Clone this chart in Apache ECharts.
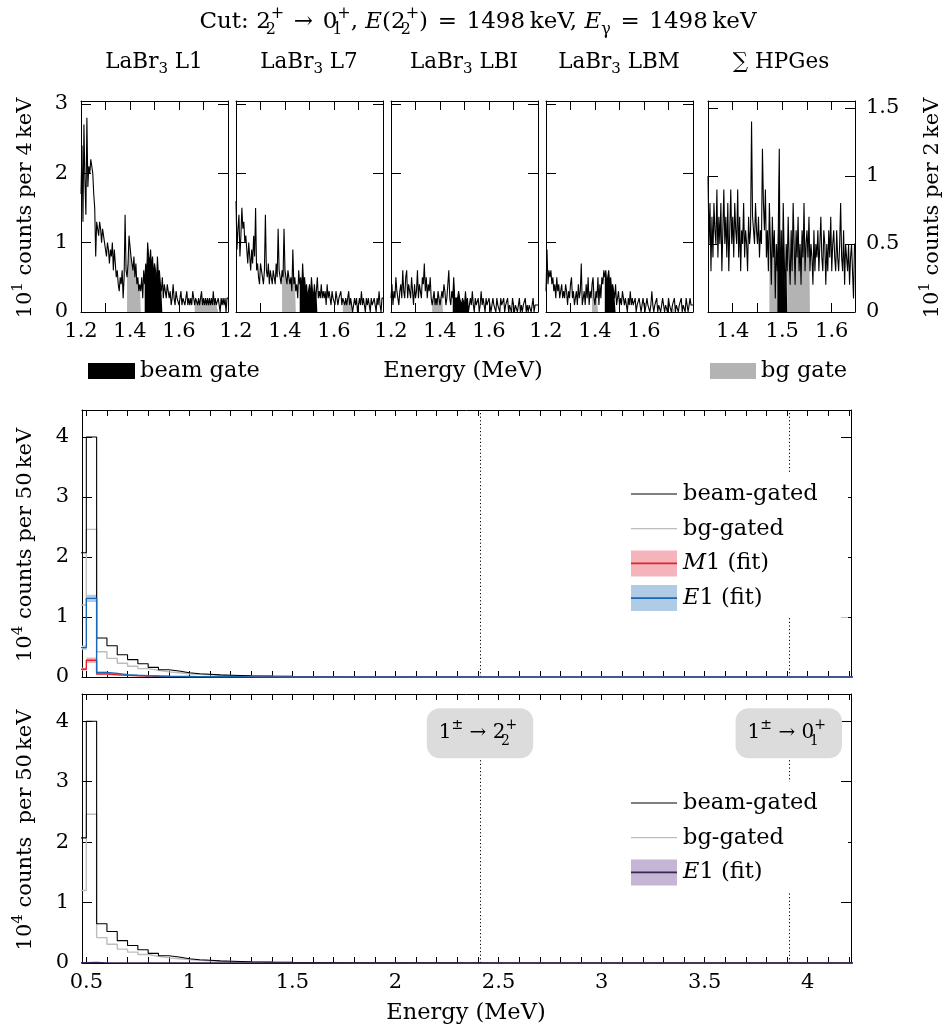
<!DOCTYPE html>
<html><head><meta charset="utf-8">
<script src="https://cdn.jsdelivr.net/npm/echarts@6/dist/echarts.min.js"></script>
<style>html,body{margin:0;padding:0;background:#fff}#c{width:952px;height:1035px}</style>
</head><body><div id="c"></div>
<script>
const FONT = 'DejaVu Serif';

// ---------- Top row: LaBr3 spectra (counts per 4 keV, from 1.200 MeV) ----------
const labrBinStart = 1.2, labrBinWidth = 0.004;
const labrNames = ['LaBr{sb|3} L1', 'LaBr{sb|3} L7', 'LaBr{sb|3} LBI', 'LaBr{sb|3} LBM'];
const countsL1 = [
 17,24,13,27,19,14,28,18,21,20, 22,21,20,17,15,8,13,12,11,13,
 12,10,12,11,10,9,8,10,9,7, 9,8,10,6,9,7,5,6,4,3,
 5,4,6,2,5,14,6,5,7,11, 11,8,7,6,8,5,7,4,5,3,
 4,3,5,2,6,4,7,5,10,8, 7,9,6,8,5,7,6,4,8,5,
 6,4,3,5,2,4,3,2,4,3, 2,3,1,2,4,2,1,3,2,2,
 1,2,3,1,2,2,1,2,3,1, 2,1,2,1,3,2,1,2,2,1,
 2,1,2,3,1,2,1,2,1,2, 1,2,1,2,1,3,1,2,1,1,
 2,1,0,2,1,2,1,2,0,2];
const countsL7 = [
 16,9,12,14,8,11,15,12,13,10, 11,9,7,10,8,6,9,7,11,8,
 15,6,7,5,4,7,6,5,4,6, 14,6,5,7,4,6,5,4,6,5,
 4,7,5,12,6,5,4,6,5,12, 6,5,4,6,5,4,5,3,9,4,
 5,3,4,2,6,4,5,3,7,4, 5,3,4,2,3,4,2,5,3,2,
 4,2,3,5,2,3,2,4,2,3, 2,3,1,4,2,3,2,1,3,2,
 2,1,3,2,1,2,2,3,1,2, 2,1,2,1,2,3,1,2,1,0,
 1,2,1,2,0,1,2,1,3,1, 2,1,0,2,1,2,1,0,2,1,
 1,2,1,0,2,1,3,1,0,2];
const countsLBI = [
 2,4,1,3,2,5,3,2,1,3, 4,2,6,3,2,5,6,2,4,3,
 2,5,3,1,4,2,3,6,2,4, 3,2,5,4,7,3,5,2,4,3,
 5,2,1,2,3,1,2,1,3,2, 1,2,3,2,4,3,1,2,4,6,
 2,1,3,2,5,2,2,2,2,3, 2,2,1,2,2,1,3,1,2,0,
 1,2,1,3,1,0,2,1,1,2, 0,1,3,1,2,1,0,2,1,1,
 2,1,0,1,2,1,1,0,2,1, 1,0,2,1,1,2,0,1,1,2,
 0,1,1,0,2,1,0,1,1,0, 1,2,0,1,0,1,1,2,0,1,
 0,1,1,0,1,2,0,1,1,1];
const countsLBM = [
 3,9,4,6,5,6,4,5,3,4, 2,5,3,4,2,3,4,2,3,2,
 4,3,1,3,2,4,5,2,3,1, 2,3,1,4,2,3,7,1,2,3,
 1,4,2,5,1,3,2,4,5,2, 1,3,2,5,1,4,2,5,4,6,
 5,6,4,5,6,4,5,3,4,3, 2,4,1,2,3,1,2,1,3,2,
 1,2,1,0,2,1,3,1,2,1, 1,2,0,1,1,2,1,0,1,2,
 1,0,1,2,1,1,0,1,3,1, 0,1,1,2,0,1,1,0,1,2,
 1,0,1,1,0,2,1,1,0,1, 1,2,0,1,1,0,1,1,2,0,
 1,1,0,2,1,0,1,2,1,1];
const labrCounts = [countsL1, countsL7, countsLBI, countsLBM];
const labrBeamGates = [[1.46, 1.532], [1.46, 1.532], [1.452, 1.516], [1.44, 1.484]];
const labrBgGates = [
  [[1.388, 1.444], [1.664, 1.76]],
  [[1.388, 1.444], [1.636, 1.68]],
  [[1.368, 1.412], [1.68, 1.692]],
  [[1.388, 1.412], [1.712, 1.724]]];

// ---------- Top row: sum of HPGe (counts per 2 keV, from 1.350 MeV) ----------
const hpgeBinStart = 1.35, hpgeBinWidth = 0.002;
const countsHPGe = [
 10,5,8,3,7,4,8,6,5,9, 4,7,5,8,3,6,9,5,7,4,
 8,3,6,9,5,7,4,8,6,5, 9,4,7,3,6,5,8,4,6,5,
 3,7,5,6,14,7,6,5,8,6, 5,7,4,6,5,12,8,6,9,4,
 6,3,8,5,2,7,4,6,1,5, 3,6,12,0,6,2,8,4,1,5,
 3,7,4,2,6,3,8,5,2,6, 4,7,3,5,2,6,4,8,3,5,
 6,4,7,3,5,4,2,6,3,5, 4,6,3,5,7,4,3,6,5,2,
 5,3,6,4,7,3,5,6,4,3, 6,4,3,5,8,4,3,6,2,5,
 4,3,5,2,4,5,3,1,5];
const hpgeBeamGate = [1.49, 1.51];
const hpgeBgGates = [[1.474, 1.49], [1.51, 1.556]];

// ---------- Main panels (10^4 counts per 50 keV, bins from 0.45 MeV) ----------
const mainBinStart = 0.45, mainBinWidth = 0.05;
const beamGated = [
 2.07,4.00,0.65,0.52,0.37,0.29,0.22,0.16,0.12,0.10,
 0.07,0.055,0.045,0.035,0.03,0.025,0.02,0.017,0.014,0.012,
 0.01,0.009,0.008,0.007,0.006,0.005,0.005,0.004,0.004,0.003,
 0.003,0.003,0.002,0.002,0.002,0.002,0.002,0.001,0.002,0.001,
 0.001,0.001,0.001,0.001,0.001,0.001,0.001,0.001,0.001,0.001,
 0.001,0.001,0.001,0.001,0.001,0.001,0.001,0.001,0.001,0.001,
 0.001,0.001,0.001,0.001,0.001,0.001,0.001,0,0.001,0,
 0,0,0,0,0,0];
const bgGated = [
 1.20,2.46,0.42,0.31,0.23,0.18,0.14,0.11,0.085,0.07,
 0.055,0.045,0.037,0.03,0.025,0.02,0.017,0.014,0.012,0.01,
 0.008,0.007,0.006,0.005,0.004,0.004,0.003,0.003,0.002,0.002,
 0.002,0.002,0.001,0.001,0.001,0.001,0.001,0.001,0.001,0.001,
 0.001,0.001,0.001,0.001,0,0.001,0,0,0,0,
 0,0,0,0,0,0,0,0,0,0,
 0,0,0,0,0,0,0,0,0,0,
 0,0,0,0,0,0];
const m1Fit = [
 0.13,0.28,0.05,0.038,0.027,0.02,0.015,0.012,0.009,0.007,
 0.005,0.004,0.003,0.003,0.002,0.002,0.002,0.001,0.001,0.001,
 0.001,0.001,0.001,0.001,0.001,0.001,0.001,0.001,0.001,0.001,
 0.001,0.001,0.001,0.001,0.001,0.001,0.001,0.001,0.001,0.001,
 0.001,0.001,0.001,0.001,0.001,0.001,0.001,0.001,0.001,0.001,
 0.001,0.001,0.001,0.001,0.001,0.001,0.001,0.001,0.001,0.001,
 0.001,0.001,0.001,0.001,0.001,0.001,0.001,0.001,0.001,0.001,
 0.001,0.001,0.001,0.001,0.001,0.001];
const m1Err = [
 0.025,0.045,0.01,0.008,0.006,0.004,0.003,0.002,0.002,0.002,
 0.001,0.001,0.001,0.001,0.001,0.001,0.001,0.001,0.001,0.001,
 0,0,0,0,0,0,0,0,0,0, 0,0,0,0,0,0,0,0,0,0,
 0,0,0,0,0,0,0,0,0,0, 0,0,0,0,0,0,0,0,0,0,
 0,0,0,0,0,0,0,0,0,0, 0,0,0,0,0,0];
const e1Fit = [
 0.49,1.31,0.075,0.06,0.04,0.03,0.022,0.017,0.013,0.01,
 0.008,0.006,0.005,0.004,0.003,0.003,0.002,0.002,0.002,0.001,
 0.001,0.001,0.001,0.001,0.001,0.001,0.001,0.001,0.001,0.001,
 0.001,0.001,0.001,0.001,0.001,0.001,0.001,0.001,0.001,0.001,
 0.001,0.001,0.001,0.001,0.001,0.001,0.001,0.001,0.001,0.001,
 0.001,0.001,0.001,0.001,0.001,0.001,0.001,0.001,0.001,0.001,
 0.001,0.001,0.001,0.001,0.001,0.001,0.001,0.001,0.001,0.001,
 0.001,0.001,0.001,0.001,0.001,0.001];
const e1Err = [
 0.035,0.06,0.012,0.01,0.007,0.005,0.004,0.003,0.002,0.002,
 0.001,0.001,0.001,0.001,0.001,0.001,0.001,0.001,0.001,0.001,
 0,0,0,0,0,0,0,0,0,0, 0,0,0,0,0,0,0,0,0,0,
 0,0,0,0,0,0,0,0,0,0, 0,0,0,0,0,0,0,0,0,0,
 0,0,0,0,0,0,0,0,0,0, 0,0,0,0,0,0];
const e1FitLower = [
 0.004,0.01,0.002,0.002,0.001,0.001,0.001,0.001,0.001,0.001,
 0.001,0.001,0.001,0.001,0.001,0.001,0.001,0.001,0.001,0.001,
 0.001,0.001,0.001,0.001,0.001,0.001,0.001,0.001,0.001,0.001,
 0.001,0.001,0.001,0.001,0.001,0.001,0.001,0.001,0.001,0.001,
 0.001,0.001,0.001,0.001,0.001,0.001,0.001,0.001,0.001,0.001,
 0.001,0.001,0.001,0.001,0.001,0.001,0.001,0.001,0.001,0.001,
 0.001,0.001,0.001,0.001,0.001,0.001,0.001,0.001,0.001,0.001,
 0.001,0.001,0.001,0.001,0.001,0.001];
const transitionEnergies = [2.410, 3.908];
const transitionLabels = ['1{sp|±} → 2{sb0|2}{sp|+}', '1{sp|±} → 0{sb0|1}{sp|+}'];

// ---------- Tick values ----------
const energyTicks = [0.5,0.6,0.7,0.8,0.9,1,1.1,1.2,1.3,1.4,1.5,1.6,1.7,1.8,1.9,2,2.1,2.2,2.3,2.4,2.5,
  2.6,2.7,2.8,2.9,3,3.1,3.2,3.3,3.4,3.5,3.6,3.7,3.8,3.9,4,4.1,4.2];
const energyLabels = [0.5,1,1.5,2,2.5,3,3.5,4];
const labrXTicks = [1.2,1.3,1.4,1.5,1.6,1.7,1.8];
const labrXLabels = [1.2,1.4,1.6];
const hpgeXTicks = [1.35,1.4,1.45,1.5,1.55,1.6];
const hpgeXLabels = [1.4,1.5,1.6];
const labrYTicks = [0,1,2,3];
const hpgeYTicks = [0,0.5,1,1.5];
const mainYTicks = [0,1,2,3,4];

// ---------- helpers ----------
const chart = echarts.init(document.getElementById('c'));
const grids = [], xAxes = [], yAxes = [], series = [];
const TXT = {fontFamily: FONT, fontSize: 21, color: '#000'};

function addPanel(box, xr, xt, xl, yr, yt, leftLab, rightLab, tickLen) {
  const g = grids.length;
  grids.push({left: box[0], top: box[1], width: box[2], height: box[3], containLabel: false});
  const common = {gridIndex: g, type: 'value', splitLine: {show: false},
    axisLine: {show: true, onZero: false, lineStyle: {color: '#000', width: 1}}};
  xAxes.push(Object.assign({}, common, {position: 'bottom', min: xr[0], max: xr[1],
    axisTick: {show: true, inside: true, length: tickLen, customValues: xt, lineStyle: {color: '#000'}},
    axisLabel: xl ? Object.assign({show: true, customValues: xl, margin: 9}, TXT) : {show: false}}));
  xAxes.push(Object.assign({}, common, {position: 'top', min: xr[0], max: xr[1],
    axisTick: {show: true, inside: true, length: tickLen, customValues: xt, lineStyle: {color: '#000'}},
    axisLabel: {show: false}}));
  yAxes.push(Object.assign({}, common, {position: 'left', min: yr[0], max: yr[1],
    axisTick: {show: true, inside: true, length: 10, customValues: yt, lineStyle: {color: '#000'}},
    axisLabel: leftLab ? Object.assign({show: true, customValues: yt, margin: 13}, TXT) : {show: false}}));
  yAxes.push(Object.assign({}, common, {position: 'right', min: yr[0], max: yr[1],
    axisTick: {show: true, inside: true, length: 10, customValues: yt, lineStyle: {color: '#000'}},
    axisLabel: rightLab ? Object.assign({show: true, customValues: yt, margin: 11}, TXT) : {show: false}}));
  return {xi: xAxes.length - 2, yi: yAxes.length - 2};
}
function edge(start, width, i) { return +(start + i * width).toFixed(6); }
function stepData(start, width, vals, scale) {
  const d = vals.map((v, i) => [edge(start, width, i), v * scale]);
  d.push([edge(start, width, vals.length), vals[vals.length - 1] * scale]);
  return d;
}
function gateData(start, width, vals, scale, lo, hi) {
  const d = [];
  vals.forEach((v, i) => { const e = edge(start, width, i); if (e >= lo - 1e-9 && e < hi - 1e-9) d.push([e, v * scale]); });
  if (d.length) d.push([+(d[d.length - 1][0] + width).toFixed(6), d[d.length - 1][1]]);
  return d;
}
function stepLine(ax, data, color, width, z, extra) {
  return Object.assign({type: 'line', xAxisIndex: ax.xi, yAxisIndex: ax.yi, data, step: 'end',
    symbol: 'none', silent: true, z, lineStyle: {color, width}}, extra || {});
}
function fillLine(ax, data, color, z) {
  return {type: 'line', xAxisIndex: ax.xi, yAxisIndex: ax.yi, data, step: 'end', symbol: 'none',
    silent: true, z, lineStyle: {width: 0, opacity: 0}, areaStyle: {color, opacity: 1}};
}
function band(ax, fit, err, color) {
  const data = fit.map((v, i) => [edge(mainBinStart, mainBinWidth, i), edge(mainBinStart, mainBinWidth, i + 1), v - err[i], v + err[i]]);
  series.push({type: 'custom', xAxisIndex: ax.xi, yAxisIndex: ax.yi, data, silent: true, z: 2, clip: true,
    encode: {x: [0, 1], y: [2, 3]},
    renderItem: (params, api) => {
      const p0 = api.coord([api.value(0), api.value(3)]);
      const p1 = api.coord([api.value(1), api.value(2)]);
      return {type: 'rect', shape: {x: p0[0], y: p0[1], width: p1[0] - p0[0] + 0.4, height: Math.max(p1[1] - p0[1], 0)},
        style: {fill: color}};
    }});
}

// ---------- top panels ----------
const GATE_BLACK = '#000', GATE_GRAY = '#b3b3b3';
const labrLefts = [81, 236, 391, 546];
labrCounts.forEach((cts, k) => {
  const ax = addPanel([labrLefts[k], 101, 147, 211], [1.2, 1.8], labrXTicks, labrXLabels,
    [0, 3.04], labrYTicks, k === 0, false, 9);
  labrBgGates[k].forEach(g => series.push(fillLine(ax, gateData(labrBinStart, labrBinWidth, cts, 0.1, g[0], g[1]), GATE_GRAY, 1)));
  series.push(fillLine(ax, gateData(labrBinStart, labrBinWidth, cts, 0.1, labrBeamGates[k][0], labrBeamGates[k][1]), GATE_BLACK, 1));
  series.push(stepLine(ax, stepData(labrBinStart, labrBinWidth, cts, 0.1), '#000', 1.1, 3));
});
{
  const ax = addPanel([708, 101, 147, 211], [1.35, 1.647], hpgeXTicks, hpgeXLabels,
    [0, 1.55], hpgeYTicks, false, true, 9);
  hpgeBgGates.forEach(g => series.push(fillLine(ax, gateData(hpgeBinStart, hpgeBinWidth, countsHPGe, 0.1, g[0], g[1]), GATE_GRAY, 1)));
  series.push(fillLine(ax, gateData(hpgeBinStart, hpgeBinWidth, countsHPGe, 0.1, hpgeBeamGate[0], hpgeBeamGate[1]), GATE_BLACK, 1));
  series.push(stepLine(ax, stepData(hpgeBinStart, hpgeBinWidth, countsHPGe, 0.1), '#000', 1.1, 3));
}

// ---------- main panels ----------
const C_BG = '#bdbdbd';
const C_M1 = '#e8202a', C_M1B = '#f5b3bb';
const C_E1 = '#1a67b3', C_E1B = '#b0cbe6';
const C_E1L = '#3a2357', C_E1LB = '#c5b6d6';
const dotted = {color: '#000', width: 1, type: [1.2, 2.4]};

const axMid = addPanel([82, 410, 769, 267], [0.479, 4.21], energyTicks, null, [0, 4.45], mainYTicks, true, false, 6);
band(axMid, m1Fit, m1Err, C_M1B);
band(axMid, e1Fit, e1Err, C_E1B);
series.push(stepLine(axMid, stepData(mainBinStart, mainBinWidth, bgGated, 1), C_BG, 1.4, 3));
series.push(stepLine(axMid, stepData(mainBinStart, mainBinWidth, beamGated, 1), '#000', 1.1, 4, {
  markLine: {silent: true, symbol: 'none', label: {show: false}, lineStyle: dotted,
    data: transitionEnergies.map(e => [{coord: [e, 0]}, {coord: [e, 4.45]}])}}));
series.push(stepLine(axMid, stepData(mainBinStart, mainBinWidth, m1Fit, 1), C_M1, 1.4, 5));
series.push(stepLine(axMid, stepData(mainBinStart, mainBinWidth, e1Fit, 1), C_E1, 1.4, 6));

const axBot = addPanel([82, 694, 769, 269], [0.479, 4.21], energyTicks, energyLabels, [0, 4.45], mainYTicks, true, false, 6);
const annRich = {
  sp: {fontFamily: FONT, fontSize: 14, lineHeight: 16, verticalAlign: 'top'},
  sb0: {fontFamily: FONT, fontSize: 14, lineHeight: 16, verticalAlign: 'bottom', width: 0}
};
series.push(stepLine(axBot, stepData(mainBinStart, mainBinWidth, bgGated, 1), C_BG, 1.4, 3));
series.push(stepLine(axBot, stepData(mainBinStart, mainBinWidth, beamGated, 1), '#000', 1.1, 4, {
  markLine: {silent: true, symbol: 'none', label: {show: false}, lineStyle: dotted,
    data: transitionEnergies.map(e => [{coord: [e, 0]}, {coord: [e, 3.4]}])},
  markPoint: {silent: true, symbol: 'rect', symbolSize: 1, itemStyle: {color: 'rgba(0,0,0,0)'},
    data: transitionEnergies.map((e, i) => ({coord: [e, 3.8], label: {
      show: true, position: 'inside', formatter: transitionLabels[i], fontFamily: FONT, fontSize: 20,
      color: '#000', lineHeight: 30, backgroundColor: '#dcdcdc', borderRadius: 13, padding: [10, 16, 10, 12],
      rich: annRich}}))}}));
series.push(stepLine(axBot, stepData(mainBinStart, mainBinWidth, e1FitLower, 1), C_E1L, 1.4, 5));

// ---------- free text & legends ----------
const rich = {
  sp: {fontFamily: FONT, fontSize: 15, lineHeight: 16, verticalAlign: 'top'},
  sb0: {fontFamily: FONT, fontSize: 15, lineHeight: 16, verticalAlign: 'bottom', width: 0},
  sb: {fontFamily: FONT, fontSize: 15, lineHeight: 16, verticalAlign: 'bottom'},
  tsp: {fontFamily: FONT, fontSize: 16, lineHeight: 17, verticalAlign: 'top'},
  tsb0: {fontFamily: FONT, fontSize: 16, lineHeight: 17, verticalAlign: 'bottom', width: 0},
  tsb: {fontFamily: FONT, fontSize: 16, lineHeight: 17, verticalAlign: 'bottom'},
  i: {fontFamily: FONT, fontSize: 22.5, fontStyle: 'italic', lineHeight: 30},
  ti: {fontFamily: FONT, fontSize: 23, fontStyle: 'italic', lineHeight: 32}
};
function T(x, y, text, opt) {
  return Object.assign({type: 'text', x, y, z: 100, silent: true, style: Object.assign({
    text, fontFamily: FONT, fontSize: 21, fill: '#000', align: 'center', verticalAlign: 'middle',
    lineHeight: 30, rich}, (opt && opt.style) || {})}, (opt && opt.el) || {});
}
const graphics = [];
const SP = ' \u200A';
graphics.push(T(478, 22, 'Cut: 2{tsb0|2}{tsp|+}' + SP + '→' + SP + '0{tsb0|1}{tsp|+}, {ti|E}(2{tsb0|2}{tsp|+})' + SP + '=' + SP +
  '1498\u2009keV, {ti|E}{tsb|γ}' + SP + '=' + SP + '1498\u2009keV', {style: {fontSize: 23, lineHeight: 32}}));
const labelCenters = [154, 309, 464, 619];
labrNames.forEach((n, k) => graphics.push(T(labelCenters[k], 62, n, {style: {fontSize: 21.5}})));
graphics.push(T(781, 62, '∑ HPGes', {style: {fontSize: 21.5}}));
graphics.push(T(26, 208, '10{sp|1} counts per 4\u2009keV', {el: {rotation: Math.PI / 2}}));
graphics.push(T(933, 208, '10{sp|1} counts per 2\u2009keV', {el: {rotation: Math.PI / 2}}));
graphics.push(T(26, 545, '10{sp|4} counts per 50\u2009keV', {el: {rotation: Math.PI / 2}}));
graphics.push(T(26, 830, '10{sp|4} counts  per 50\u2009keV', {el: {rotation: Math.PI / 2}}));
graphics.push(T(463, 371, 'Energy (MeV)', {style: {fontSize: 22.5}}));
graphics.push(T(466, 1013, 'Energy (MeV)', {style: {fontSize: 22.5}}));
// gate legend
graphics.push({type: 'rect', z: 100, silent: true, shape: {x: 88, y: 363, width: 47, height: 16}, style: {fill: GATE_BLACK}});
graphics.push(T(140, 371, 'beam gate', {style: {align: 'left', fontSize: 22.5}}));
graphics.push({type: 'rect', z: 100, silent: true, shape: {x: 710, y: 363, width: 46, height: 16}, style: {fill: GATE_GRAY}});
graphics.push(T(761, 371, 'bg gate', {style: {align: 'left', fontSize: 22.5}}));

function legend(top, rows) {
  graphics.push({type: 'rect', z: 99, silent: true, shape: {x: 620, y: top - 21, width: 228, height: rows.length * 34.7 + 6}, style: {fill: '#fff'}});
  rows.forEach((r, i) => {
    const y = top + i * 34.7;
    if (r.band) graphics.push({type: 'rect', z: 100, silent: true, shape: {x: 631, y: y - 13, width: 46, height: 26}, style: {fill: r.band}});
    graphics.push({type: 'line', z: 101, silent: true, shape: {x1: 631, y1: y, x2: 677, y2: y}, style: {stroke: r.color, lineWidth: r.w}});
    graphics.push(T(683, y, r.text, {style: {align: 'left', fontSize: 22.5}}));
  });
}
legend(494, [
  {text: 'beam-gated', color: '#000', w: 1},
  {text: 'bg-gated', color: C_BG, w: 1.3},
  {text: '{i|M}1 (fit)', color: C_M1, w: 1.6, band: C_M1B},
  {text: '{i|E}1 (fit)', color: C_E1, w: 1.6, band: C_E1B}]);
legend(803, [
  {text: 'beam-gated', color: '#000', w: 1},
  {text: 'bg-gated', color: C_BG, w: 1.3},
  {text: '{i|E}1 (fit)', color: C_E1L, w: 1.6, band: C_E1LB}]);

chart.setOption({animation: false, backgroundColor: '#fff', grid: grids, xAxis: xAxes, yAxis: yAxes, series, graphic: graphics});
</script></body></html>
